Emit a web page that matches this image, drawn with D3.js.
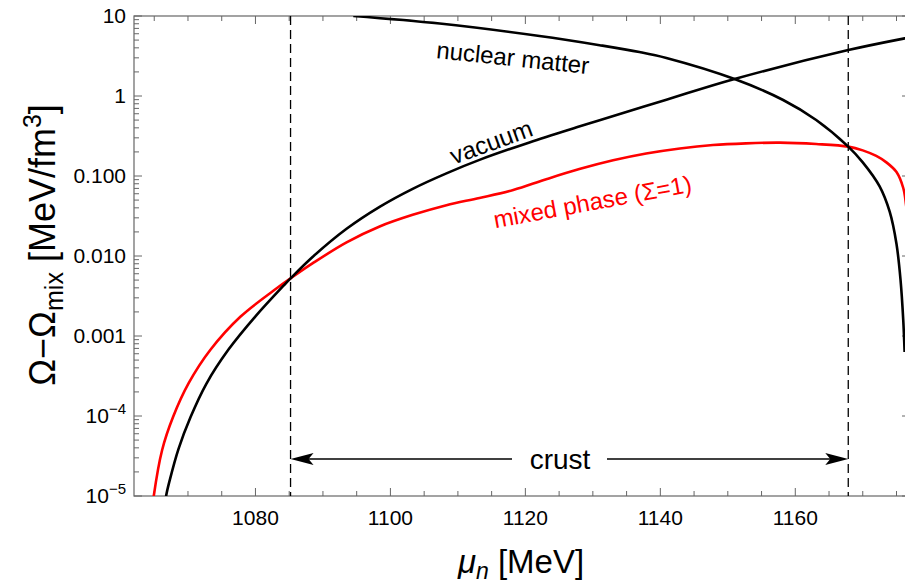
<!DOCTYPE html>
<html>
<head>
<meta charset="utf-8">
<script src="https://cdn.jsdelivr.net/npm/d3@7"></script>
<style>
  body { margin: 0; background: #fff; }
  svg { display: block; font-family: "Liberation Sans", Arial, sans-serif; }
</style>
</head>
<body>
<div id="chart"></div>
<script>
// mu_n [MeV] and Omega - Omega_mix [MeV/fm^3]
var vacuumMu  = [1066.5, 1066.76, 1067.3, 1068.6, 1070.4, 1072.7, 1076.0, 1080.0, 1084.2, 1085.2, 1088.5, 1093.5, 1098.4, 1103.3, 1108.3, 1113.2, 1120.6, 1127.6, 1131.0, 1140.9, 1151.0, 1167.85, 1176.2, 1177.0];
var vacuumVal = [6.3e-6, 1.0e-5, 1.58e-5, 3.89e-5, 9.77e-5, 2.51e-4, 6.76e-4, 1.76e-3, 4.29e-3, 5.25e-3, 9.79e-3, 0.0219, 0.0412, 0.0692, 0.108, 0.159, 0.263, 0.406, 0.498, 0.899, 1.63, 3.75, 5.25, 5.41];

var nuclearMu  = [1094.5, 1107.3, 1122.1, 1131.0, 1136.9, 1140.9, 1151.0, 1158.2, 1163.1, 1167.85, 1170.0, 1172.5, 1174.0, 1175.0, 1175.6, 1176.0, 1176.2];
var nuclearVal = [10, 8.04, 5.62, 4.32, 3.55, 2.99, 1.63, 0.891, 0.501, 0.233, 0.148, 0.0741, 0.0355, 0.0141, 5.0e-3, 1.58e-3, 6.3e-4];

var mixedMu  = [1064.8, 1064.93, 1066.17, 1067.8, 1070.1, 1073.3, 1077.8, 1083.2, 1085.2, 1088.5, 1093.5, 1098.4, 1103.3, 1108.3, 1113.2, 1118.2, 1123.1, 1128.0, 1133.0, 1137.9, 1142.9, 1147.8, 1152.7, 1157.7, 1163.1, 1167.85, 1170.0, 1172.0, 1173.5, 1175.0, 1176.0, 1176.4, 1176.8];
var mixedVal = [7.9e-6, 1.0e-5, 3.76e-5, 9.77e-5, 2.57e-4, 6.68e-4, 1.75e-3, 3.98e-3, 5.25e-3, 8.13e-3, 0.0148, 0.0234, 0.0327, 0.0432, 0.0531, 0.0668, 0.0912, 0.122, 0.157, 0.191, 0.221, 0.244, 0.256, 0.261, 0.251, 0.233, 0.209, 0.178, 0.148, 0.112, 0.0708, 0.0447, 0.020];

var crustEdges = [1085.2, 1167.85];
var crustArrowVal = 2.9e-5;

var xMajorTicks = [1080, 1100, 1120, 1140, 1160];
var yMajorTicks = [1e-5, 1e-4, 1e-3, 1e-2, 1e-1, 1, 10];
var yTickLabels = [["10", "\u22125"], ["10", "\u22124"], ["0.001"], ["0.010"], ["0.100"], ["1"], ["10"]];

var width = 905, height = 585;
var plotLeft = 134, plotRight = 910, plotTop = 16, plotBottom = 496;
var frameColor = '#666';

var svg = d3.select('#chart').append('svg')
    .attr('width', width)
    .attr('height', height);

var x = d3.scaleLinear().domain([1062, 1177]).range([plotLeft, plotRight]);
var y = d3.scaleLog().domain([1e-5, 10]).range([plotBottom, plotTop]);

svg.append('clipPath').attr('id', 'plotClip')
    .append('rect')
    .attr('x', plotLeft).attr('y', plotTop)
    .attr('width', plotRight - plotLeft).attr('height', plotBottom - plotTop);

// ticks, inward on all four sides
var xMinorTicks = d3.range(1065, 1177, 5).filter(function (v) { return v % 20 !== 0; });
var yMinorTicks = [];
[1e-5, 1e-4, 1e-3, 1e-2, 1e-1, 1].forEach(function (dec) {
    for (var k = 2; k <= 9; k++) yMinorTicks.push(k * dec);
});

var ticks = svg.append('g').attr('stroke', frameColor).attr('stroke-width', 1);

function xTick(v, len) {
    ticks.append('line').attr('x1', x(v)).attr('x2', x(v)).attr('y1', plotBottom).attr('y2', plotBottom - len);
    ticks.append('line').attr('x1', x(v)).attr('x2', x(v)).attr('y1', plotTop).attr('y2', plotTop + len);
}
function yTick(v, len) {
    ticks.append('line').attr('y1', y(v)).attr('y2', y(v)).attr('x1', plotLeft).attr('x2', plotLeft + len);
    ticks.append('line').attr('y1', y(v)).attr('y2', y(v)).attr('x1', plotRight).attr('x2', plotRight - len);
}
xMajorTicks.forEach(function (v) { xTick(v, 8); });
xMinorTicks.forEach(function (v) { xTick(v, 5); });
yMajorTicks.forEach(function (v) { yTick(v, 8); });
yMinorTicks.forEach(function (v) { yTick(v, 5); });

svg.append('rect')
    .attr('x', plotLeft).attr('y', plotTop)
    .attr('width', plotRight - plotLeft).attr('height', plotBottom - plotTop)
    .attr('fill', 'none').attr('stroke', frameColor).attr('stroke-width', 1.2);

// tick labels
svg.append('g').selectAll('text')
    .data(xMajorTicks)
    .enter().append('text')
    .attr('x', function (d) { return x(d); })
    .attr('y', 525)
    .attr('text-anchor', 'middle')
    .attr('font-size', 21)
    .text(function (d) { return d; });

var yLabels = svg.append('g').selectAll('text')
    .data(yMajorTicks)
    .enter().append('text')
    .attr('x', 126)
    .attr('y', function (d) { return y(d) + 7; })
    .attr('text-anchor', 'end')
    .attr('font-size', 21);

yLabels.each(function (d, i) {
    var t = d3.select(this), parts = yTickLabels[i];
    t.append('tspan').text(parts[0]);
    if (parts.length > 1) {
        t.append('tspan').attr('dy', -9).attr('font-size', 15).text(parts[1]);
    }
});

// crust boundaries
svg.append('g').selectAll('line')
    .data(crustEdges)
    .enter().append('line')
    .attr('x1', function (d) { return x(d); })
    .attr('x2', function (d) { return x(d); })
    .attr('y1', plotTop).attr('y2', plotBottom)
    .attr('stroke', '#000').attr('stroke-width', 1.3)
    .attr('stroke-dasharray', '9,5');

// curves
var line = d3.line()
    .x(function (d) { return x(d[0]); })
    .y(function (d) { return y(d[1]); })
    .curve(d3.curveCatmullRom.alpha(0.5));

var curves = svg.append('g').attr('clip-path', 'url(#plotClip)').attr('fill', 'none').attr('stroke-width', 2.6);

curves.append('path').attr('d', line(d3.zip(mixedMu, mixedVal))).attr('stroke', '#ff0000');
curves.append('path').attr('d', line(d3.zip(vacuumMu, vacuumVal))).attr('stroke', '#000');
curves.append('path').attr('d', line(d3.zip(nuclearMu, nuclearVal))).attr('stroke', '#000');

// curve labels
svg.append('text')
    .attr('transform', 'translate(512,66) rotate(6)')
    .attr('text-anchor', 'middle').attr('font-size', 24)
    .text('nuclear matter');

svg.append('text')
    .attr('transform', 'translate(494,150) rotate(-20)')
    .attr('text-anchor', 'middle').attr('font-size', 24.5)
    .text('vacuum');

svg.append('text')
    .attr('transform', 'translate(594,210) rotate(-10.5)')
    .attr('text-anchor', 'middle').attr('font-size', 24)
    .attr('fill', '#ff0000')
    .text('mixed phase (\u03a3=1)');

// crust arrow
var ay = y(crustArrowVal), ax0 = x(crustEdges[0]), ax1 = x(crustEdges[1]);
var arrow = svg.append('g');
arrow.append('line')
    .attr('x1', ax0 + 10).attr('x2', ax1 - 10)
    .attr('y1', ay).attr('y2', ay)
    .attr('stroke', '#000').attr('stroke-width', 1.4);
arrow.append('path')
    .attr('d', 'M' + ax0 + ',' + ay + 'L' + (ax0 + 23) + ',' + (ay - 6) + 'L' + (ax0 + 18) + ',' + ay + 'L' + (ax0 + 23) + ',' + (ay + 6) + 'Z')
    .attr('fill', '#000');
arrow.append('path')
    .attr('d', 'M' + ax1 + ',' + ay + 'L' + (ax1 - 23) + ',' + (ay - 6) + 'L' + (ax1 - 18) + ',' + ay + 'L' + (ax1 - 23) + ',' + (ay + 6) + 'Z')
    .attr('fill', '#000');
arrow.append('rect')
    .attr('x', 512).attr('y', ay - 16)
    .attr('width', 95).attr('height', 32)
    .attr('fill', '#fff');
arrow.append('text')
    .attr('x', 560).attr('y', ay + 10)
    .attr('text-anchor', 'middle').attr('font-size', 28)
    .text('crust');

// axis titles
var yTitle = svg.append('text')
    .attr('transform', 'translate(55,245) rotate(-90)')
    .attr('text-anchor', 'middle')
    .attr('font-size', 36);
yTitle.append('tspan').text('\u03a9\u2212\u03a9');
yTitle.append('tspan').attr('dy', 8).attr('font-size', 25).text('mix');
yTitle.append('tspan').attr('dy', -8).text(' [MeV/fm');
yTitle.append('tspan').attr('dy', -14).attr('font-size', 25).text('3');
yTitle.append('tspan').attr('dy', 14).text(']');

var xTitle = svg.append('text')
    .attr('x', 521).attr('y', 573)
    .attr('text-anchor', 'middle')
    .attr('font-size', 33);
xTitle.append('tspan').attr('font-style', 'italic').text('\u03bc');
xTitle.append('tspan').attr('font-style', 'italic').attr('dy', 6).attr('font-size', 23).text('n');
xTitle.append('tspan').attr('dy', -6).text(' [MeV]');
</script>
</body>
</html>
